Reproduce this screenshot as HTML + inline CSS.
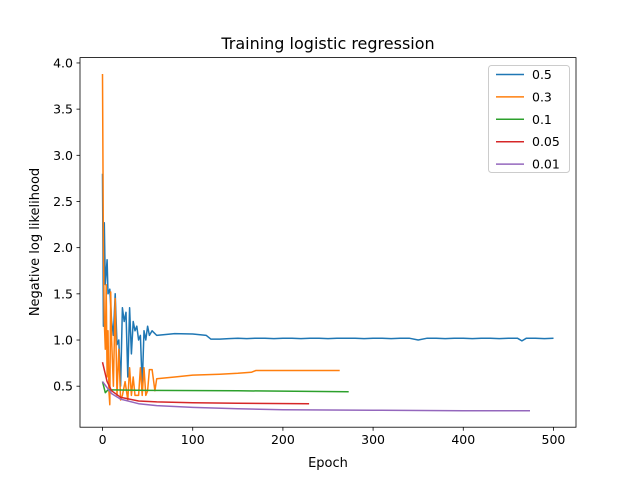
<!DOCTYPE html>
<html><head><meta charset="utf-8"><style>
body{margin:0;background:#fff}
svg text{font-family:"DejaVu Sans","Liberation Sans",sans-serif;fill:#000}
</style></head><body>
<svg id="chart" width="640" height="480">
<rect width="640" height="480" fill="#fff"/>
<text x="328" y="49" font-size="16" text-anchor="middle">Training logistic regression</text>
<g id="plot"></g>
<text x="328" y="467" font-size="13" text-anchor="middle">Epoch</text>
<text transform="translate(39,242) rotate(-90)" font-size="13" text-anchor="middle">Negative log likelihood</text>
</svg>
<script>
const xTicks=[0,100,200,300,400,500];
const yTicks=[0.5,1.0,1.5,2.0,2.5,3.0,3.5,4.0];
const seriesNames=["0.5","0.3","0.1","0.05","0.01"];
const colors=["#1f77b4","#ff7f0e","#2ca02c","#d62728","#9467bd"];
const blueX=[0,1,2,3,5,6,8,10,12,14,16,18,20,22,24,26,28,30,32,34,36,38,40,42,44,46,48,50,52,55,60,70,80,100,115,120,130,140,150,160,170,180,190,200,210,220,230,240,250,260,270,280,290,300,310,320,330,340,350,360,370,380,390,400,410,420,430,440,450,460,465,470,480,490,500];
const blueY=[2.8,1.15,2.27,1.6,1.87,1.5,1.55,1.2,1.05,1.5,0.95,1.0,0.5,1.35,1.2,1.3,0.6,1.35,0.85,1.2,1.1,1.15,1.0,1.05,0.5,1.1,1.0,1.15,1.05,1.1,1.05,1.06,1.07,1.065,1.05,1.01,1.01,1.015,1.02,1.015,1.02,1.02,1.015,1.02,1.02,1.015,1.02,1.02,1.015,1.02,1.02,1.02,1.015,1.02,1.02,1.015,1.02,1.02,1.0,1.02,1.02,1.015,1.02,1.02,1.015,1.02,1.02,1.015,1.02,1.02,0.99,1.02,1.02,1.015,1.02];
const orangeX=[0,1,2,3,4,5,6,7,8,9,10,12,14,16,18,20,22,25,28,30,32,34,36,40,42,44,46,48,50,52,55,58,60,70,80,100,130,150,165,170,200,263];
const orangeY=[3.88,2.0,1.2,0.9,1.6,0.6,1.1,0.45,0.3,1.52,1.0,0.5,1.45,0.4,0.9,0.35,0.4,0.55,0.35,0.7,0.4,0.6,0.4,0.4,0.7,0.4,0.7,0.4,0.45,0.68,0.68,0.45,0.58,0.59,0.6,0.62,0.63,0.64,0.65,0.67,0.67,0.67];
const greenX=[0,3,6,10,50,150,273];
const greenY=[0.55,0.43,0.46,0.46,0.455,0.45,0.44];
const redX=[0,5,10,20,40,60,100,150,229];
const redY=[0.76,0.55,0.45,0.38,0.34,0.33,0.32,0.315,0.31];
const purpleX=[0,10,20,40,60,100,150,200,300,400,474];
const purpleY=[0.55,0.42,0.36,0.31,0.29,0.27,0.255,0.245,0.24,0.235,0.235];
const seriesX=[blueX,orangeX,greenX,redX,purpleX];
const seriesY=[blueY,orangeY,greenY,redY,purpleY];

const L=80,R=576,T=57.6,B=427.2,XMIN=-25,XMAX=525,YMIN=0.056,YMAX=4.058;
const sx=v=>L+(v-XMIN)/(XMAX-XMIN)*(R-L);
const sy=v=>B-(v-YMIN)/(YMAX-YMIN)*(B-T);
const NS="http://www.w3.org/2000/svg";
const g=document.getElementById('plot');
function mk(tag,attrs,parent){const e=document.createElementNS(NS,tag);for(const k in attrs)e.setAttribute(k,attrs[k]);(parent||g).appendChild(e);return e;}
seriesX.forEach((xs,i)=>{
  const d=xs.map((x,j)=>(j?'L':'M')+sx(x).toFixed(1)+','+sy(seriesY[i][j]).toFixed(1)).join('');
  const p=mk('path',{d:d,fill:'none',stroke:colors[i],'stroke-width':1.5,'stroke-linejoin':'round'});
  
  
});
const frame=mk('rect',{x:L,y:T,width:R-L,height:B-T,fill:'none',stroke:'#000','stroke-width':0.8});


xTicks.forEach(t=>{
  mk('line',{x1:sx(t),x2:sx(t),y1:B,y2:B+3.5,stroke:'#000','stroke-width':0.8});
  const tx=mk('text',{x:sx(t),y:B+17,'font-size':12.5,'text-anchor':'middle'});
  tx.textContent=t;
  
  
});
yTicks.forEach(t=>{
  mk('line',{x1:L-3.5,x2:L,y1:sy(t),y2:sy(t),stroke:'#000','stroke-width':0.8});
  const tx=mk('text',{x:L-7,y:sy(t)+4.5,'font-size':12.5,'text-anchor':'end'});
  tx.textContent=t.toFixed(1);
  
  
});
const leg=mk('g',{});


mk('rect',{x:488.5,y:65.5,width:81,height:107,rx:3,fill:'#fff','fill-opacity':0.8,stroke:'#ccc'},leg);
seriesNames.forEach((n,i)=>{
  const y=74.5+i*22.4;
  const e=mk('g',{},leg);
  
  
  mk('line',{x1:496,x2:524,y1:y,y2:y,stroke:colors[i],'stroke-width':1.5},e);
  const t=mk('text',{x:532,y:y+4.5,'font-size':12.5},e);
  t.textContent=n;
});
</script>
</body></html>
